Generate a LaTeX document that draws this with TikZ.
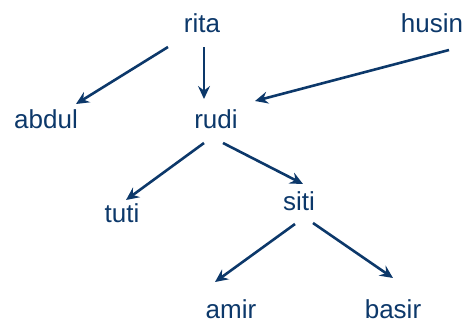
\documentclass[tikz,border=0pt]{standalone}
\usepackage{fontspec}
\setmainfont{Liberation Sans}
\usetikzlibrary{arrows.meta,calc}
\definecolor{navy}{RGB}{12,56,106}
\tikzset{
  lbl/.style={anchor=base, inner sep=0pt, text=navy, font=\fontsize{26}{30}\selectfont},
  conn/.style={draw=navy, line width=2.6pt, -{Stealth[length=13pt,width=12pt,inset=4.5pt]}}
}
\begin{document}
\begin{tikzpicture}[x=1pt,y=-1pt]
\useasboundingbox (0,0) rectangle (474,322);
\node[lbl] (rita) at (202,32) {rita};
\node[lbl] (husin) at (432,32) {husin};
\node[lbl] (abdul) at (46,128) {abdul};
\node[lbl] (rudi) at (216,128) {rudi};
\node[lbl] (tuti) at (122,222) {tuti};
\node[lbl] (siti) at (299,210) {siti};
\node[lbl] (amir) at (231,318) {amir};
\node[lbl] (basir) at (393,318) {basir};
\draw[conn] ($(rita.base)+(-34,15)$) -- ($(abdul.base)+(30,-24)$);
\draw[conn] ($(rita.base)+(2,15)$) -- ($(rudi.base)+(-12,-29)$);
\draw[conn] ($(husin.base)+(17,18)$) -- ($(rudi.base)+(39,-27)$);
\draw[conn] ($(rudi.base)+(-12,15)$) -- ($(tuti.base)+(4,-22)$);
\draw[conn] ($(rudi.base)+(7,15)$) -- ($(siti.base)+(4,-26)$);
\draw[conn] ($(siti.base)+(-4,14)$) -- ($(amir.base)+(-16,-36)$);
\draw[conn] ($(siti.base)+(14,13)$) -- ($(basir.base)+(0,-40)$);
\end{tikzpicture}
\end{document}
